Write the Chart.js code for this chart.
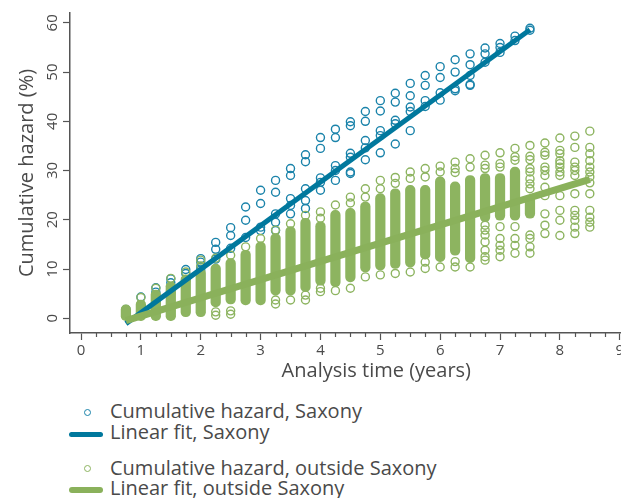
<!DOCTYPE html>
<html>
<head>
<meta charset="utf-8">
<script src="https://cdn.jsdelivr.net/npm/chart.js@4.4.1/dist/chart.umd.min.js"></script>
<style>
html, body { margin: 0; padding: 0; background: #fff; overflow: hidden; }
#wrap { position: relative; width: 621px; height: 498px; overflow: hidden; }
#chart { position: absolute; left: 0; top: 0; }
.leg { position: absolute; left: 110px; height: 24px; line-height: 24px; font-family: 'Open Sans', sans-serif; font-size: 20px; color: #4a4a4a; white-space: nowrap; }
.dot { position: absolute; width: 5px; height: 5px; border-radius: 50%; border: 1.4px solid; }
.bar { position: absolute; left: 69px; width: 34px; border-radius: 3px; }
</style>
</head>
<body>
<div id="wrap">
  <canvas id="chart" width="688" height="383"></canvas>
  <div id="legend"></div>
</div>
<script>
// время анализа (годы) и кумулятивный риск (%), Саксония
const saxonyTimes = [0.75, 1, 1.25, 1.5, 1.75, 2, 2.25, 2.5, 2.75, 3, 3.25, 3.5, 3.75, 4,
    4.25, 4.5, 4.75, 5, 5.25, 5.5, 5.75, 6, 6.25, 6.5, 6.75, 7, 7.25, 7.5];
const saxonyHazard = [
    [1.8, 0.6],
    [4.3, 1.5, 0.8],
    [6.2, 5.3, 3.0],
    [8.0, 7.2, 5.2],
    [9.9, 9.1, 7.6],
    [12.1, 11.4, 10.4, 9.8],
    [15.4, 14.0, 12.0],
    [18.4, 16.8, 14.2],
    [22.6, 19.9, 16.4],
    [26.0, 23.3, 18.5, 17.8],
    [28.0, 25.6, 21.2, 19.5, 17.8],
    [30.4, 29.0, 24.3, 22.9, 21.2],
    [33.2, 31.8, 26.3, 23.9, 22.3],
    [36.7, 34.5, 28.5, 27.6, 26.0],
    [38.4, 36.7, 31.0, 30.0, 28.0],
    [39.9, 39.1, 33.5, 32.7, 29.7, 29.4],
    [42.0, 40.0, 36.1, 34.6, 32.2],
    [44.2, 42.1, 38.1, 37.1, 33.6],
    [45.7, 43.9, 40.2, 39.5, 35.4],
    [47.7, 45.2, 42.9, 42.0, 38.1],
    [49.3, 47.3, 44.2, 43.0],
    [51.1, 48.9, 45.8, 44.3],
    [52.5, 50.0, 46.6, 46.2],
    [53.7, 51.5, 49.3, 47.5, 47.3],
    [54.9, 53.7, 52.0],
    [55.8, 55.0, 54.0],
    [57.3, 56.4],
    [58.9, 58.5]
];

// вне Саксонии: отдельные кружки
const outsideTimes = [0.75, 1, 1.25, 1.5, 1.75, 2, 2.25, 2.5, 2.75, 3, 3.25, 3.5, 3.75, 4,
    4.25, 4.5, 4.75, 5, 5.25, 5.5, 5.75, 6, 6.25, 6.5, 6.75, 7, 7.25, 7.5, 7.75, 8, 8.25, 8.5];
const outsideHazard = [
    [],
    [4.2],
    [6.1],
    [8.1],
    [9.4],
    [11.8, 10.6],
    [12.2, 1.3, 0.6],
    [12.8, 1.5, 0.8],
    [14.5],
    [16.2],
    [17.9, 3.7, 2.9],
    [19.2, 3.7],
    [20.9, 4.7, 3.7],
    [21.6, 20.3, 6.1, 5.4],
    [23.0, 5.6],
    [24.6, 23.4, 6.1],
    [26.3, 24.6, 8.4],
    [28.0, 26.3, 8.8],
    [28.6, 27.4, 9.1],
    [29.7, 28.4, 9.4],
    [30.4, 28.7, 11.4, 10.1],
    [30.9, 29.7, 10.4],
    [31.7, 30.4, 29.6, 11.5, 10.4],
    [32.4, 30.7, 10.4],
    [33.1, 31.1, 30.4, 18.9, 17.9, 16.9, 15.5, 13.8, 12.5, 11.8],
    [33.6, 31.4, 30.7, 18.6, 16.2, 14.8, 13.8, 12.5],
    [34.5, 32.8, 32.1, 18.6, 16.2, 14.8, 13.2],
    [35.1, 32.9, 32.2, 30.4, 29.7, 28.3, 27.3, 26.3, 16.9, 16.2, 14.5, 13.2],
    [35.6, 33.7, 33.1, 30.7, 30.0, 29.0, 26.6, 24.9, 21.2, 18.9, 17.2],
    [36.6, 34.1, 33.4, 32.0, 31.4, 30.7, 29.7, 29.0, 24.9, 21.9, 19.9, 16.8],
    [37.0, 34.7, 31.7, 30.7, 30.0, 29.0, 25.3, 21.9, 20.9, 19.9, 18.5, 17.2],
    [38.0, 34.7, 33.4, 32.0, 30.7, 29.7, 28.7, 27.5, 25.3, 21.9, 20.5, 19.5, 18.5]
];
// вне Саксонии: сплошные полосы из наложенных кружков (внешние края, %)
const outsideDenseLow = [-0.5, -0.5, -0.5, -0.5, 0.3, 0.3, 2.3, 2.9, 2.7, 2.7, 4.7, 4.7, 5.4, 6.7,
    6.4, 7.4, 9.4, 9.8, 10.1, 10.4, 12.0, 11.5, 12.8, 11.3, 19.6, 19.9, 19.9, 20.3];
const outsideDenseHigh = [2.7, 3.7, 5.7, 7.4, 8.8, 10.1, 11.0, 12.1, 13.8, 15.5, 17.2, 18.6, 20.3, 19.6,
    21.9, 22.3, 23.6, 25.3, 26.3, 27.0, 27.0, 28.7, 27.7, 29.0, 29.4, 29.4, 30.7, 24.9];

// линейная аппроксимация (концы отрезков)
const fitSaxonyX = [0.75, 7.5];
const fitSaxonyY = [-1.1, 58.6];
const fitOutsideX = [0.75, 8.5];
const fitOutsideY = [-0.5, 28.2];

const xTicks = [0, 1, 2, 3, 4, 5, 6, 7, 8, 9];
const yTicks = [0, 10, 20, 30, 40, 50, 60];

const labels = ['Cumulative hazard, Saxony', 'Linear fit, Saxony',
    'Cumulative hazard, outside Saxony', 'Linear fit, outside Saxony'];

const blueDot = '#1a83aa';
const blueLine = '#00789d';
const greenDot = '#8db460';
const greenLine = '#8ab15b';
const axisColor = '#555555';
const textColor = '#4a4a4a';
const fontFamily = "'Open Sans', sans-serif";

function toPoints(times, values) {
    const pts = [];
    times.forEach((t, i) => values[i].forEach(v => pts.push({ x: t, y: v })));
    return pts;
}

function toRanges(times, lows, highs) {
    return lows.map((lo, i) => ({ x: times[i], y: [lo, highs[i]] }));
}

function toLine(xs, ys) {
    return xs.map((x, i) => ({ x: x, y: ys[i] }));
}

//малые деления оси x через каждые 0.25
const minorTicks = {
    id: 'minorTicks',
    afterDraw(chart) {
        const s = chart.scales.x;
        const c = chart.ctx;
        c.save();
        c.strokeStyle = axisColor;
        c.lineWidth = 1.2;
        for (let k = 1; k < 40; k++) {
            if (k % 4 === 0) continue;
            const px = Math.round(s.getPixelForValue(k / 4)) + 0.5;
            c.beginPath();
            c.moveTo(px, s.top);
            c.lineTo(px, s.top + 4);
            c.stroke();
        }
        c.restore();
    }
};

const axisBase = {
    border: { display: true, color: axisColor, width: 1.5 },
    grid: { display: true, offset: false, drawOnChartArea: false, drawTicks: true, tickLength: 7, color: axisColor, tickWidth: 1.2 }
};

new Chart(document.getElementById('chart'), {
    type: 'scatter',
    data: {
        datasets: [
            {
                label: labels[0],
                data: toPoints(saxonyTimes, saxonyHazard),
                pointRadius: 4,
                pointBorderWidth: 1.4,
                borderColor: blueDot,
                backgroundColor: 'rgba(0,0,0,0)',
                order: 5
            },
            {
                label: labels[2],
                type: 'bar',
                data: toRanges(outsideTimes, outsideDenseLow, outsideDenseHigh),
                backgroundColor: greenDot,
                borderWidth: 0,
                borderSkipped: false,
                borderRadius: 5,
                barThickness: 9.6,
                order: 4
            },
            {
                label: labels[2],
                data: toPoints(outsideTimes, outsideHazard),
                pointRadius: 4,
                pointBorderWidth: 1.4,
                borderColor: greenDot,
                backgroundColor: 'rgba(0,0,0,0)',
                order: 3
            },
            {
                label: labels[1],
                type: 'line',
                data: toLine(fitSaxonyX, fitSaxonyY),
                borderColor: blueLine,
                borderWidth: 5,
                pointRadius: 0,
                order: 2
            },
            {
                label: labels[3],
                type: 'line',
                data: toLine(fitOutsideX, fitOutsideY),
                borderColor: greenLine,
                borderWidth: 7,
                pointRadius: 0,
                order: 1
            }
        ]
    },
    options: {
        responsive: false,
        animation: false,
        layout: { padding: { top: 13, left: 0, right: 0, bottom: 0 } },
        plugins: { legend: { display: false }, tooltip: { enabled: false } },
        scales: {
            x: {
                ...axisBase,
                type: 'linear',
                offset: false,
                min: -0.184,
                max: 10.05,
                afterBuildTicks: s => { s.ticks = xTicks.map(v => ({ value: v })); },
                afterFit: s => { s.height = 50; },
                ticks: { color: textColor, font: { family: fontFamily, size: 15 }, padding: 2, maxRotation: 0, autoSkip: false },
                title: { display: true, text: 'Analysis time (years)', color: textColor, font: { family: fontFamily, size: 20 }, padding: { top: 0, bottom: 0 } }
            },
            y: {
                ...axisBase,
                type: 'linear',
                offset: false,
                beginAtZero: false,
                min: -3,
                max: 62,
                afterBuildTicks: s => { s.ticks = yTicks.map(v => ({ value: v })); },
                afterFit: s => { s.width = 70; },
                ticks: { color: textColor, font: { family: fontFamily, size: 15 }, padding: 2, minRotation: 90, maxRotation: 90, crossAlign: 'center' },
                title: { display: true, text: 'Cumulative hazard (%)', color: textColor, font: { family: fontFamily, size: 20 }, padding: { top: 15, bottom: 0 } }
            }
        }
    },
    plugins: [minorTicks]
});

//легенда под графиком
const legendRows = [
    { kind: 'dot', color: blueDot, y: 413 },
    { kind: 'bar', color: blueLine, y: 434, h: 5 },
    { kind: 'dot', color: greenDot, y: 469 },
    { kind: 'bar', color: greenLine, y: 490, h: 6 }
];
const textCenters = [412, 432.5, 469, 489];
const legendEl = document.getElementById('legend');
legendRows.forEach((r, i) => {
    const mark = document.createElement('div');
    if (r.kind === 'dot') {
        mark.className = 'dot';
        mark.style.borderColor = r.color;
        mark.style.left = (88 - 3.9) + 'px';
        mark.style.top = (r.y - 3.9) + 'px';
    } else {
        mark.className = 'bar';
        mark.style.background = r.color;
        mark.style.height = r.h + 'px';
        mark.style.top = (r.y - r.h / 2) + 'px';
    }
    legendEl.appendChild(mark);
    const t = document.createElement('div');
    t.className = 'leg';
    t.style.top = (textCenters[i] - 12.6) + 'px';
    t.textContent = labels[i];
    legendEl.appendChild(t);
});
</script>
</body>
</html>
